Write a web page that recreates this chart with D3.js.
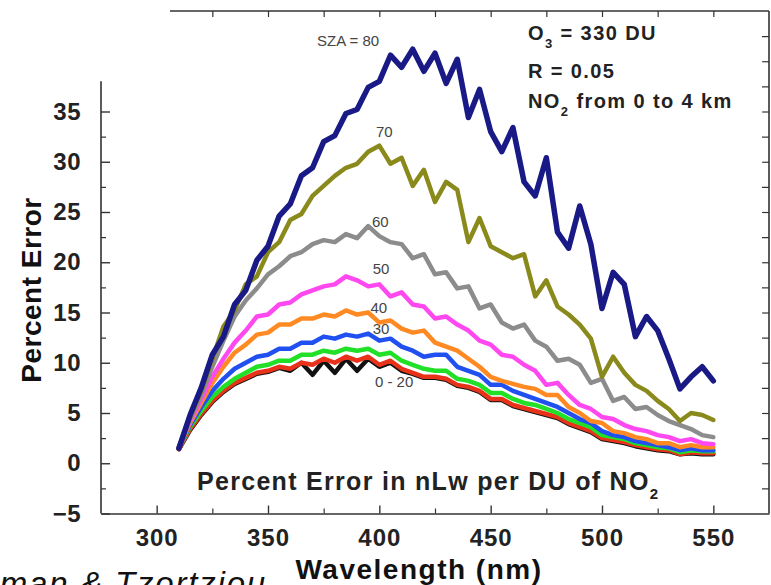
<!DOCTYPE html>
<html>
<head>
<meta charset="utf-8">
<script src="https://cdn.jsdelivr.net/npm/d3@7"></script>
<style>
  body { margin: 0; background: #fff; }
  svg { display: block; font-family: Arial, "Liberation Sans", sans-serif; }
  .tick text { font-weight: bold; fill: #222; }
</style>
</head>
<body>
<svg id="chart" width="771" height="585"></svg>
<script>
// DATA
const wavelengths = [310,315,320,325,330,335,340,345,350,355,360,365,370,375,380,385,390,395,400,
  405,410,415,420,425,430,435,440,445,450,455,460,465,470,475,480,485,490,495,500,
  505,510,515,520,525,530,535,540,545,550];

const sza0 = [1.4,3.3,4.8,6.1,7.1,7.9,8.4,8.9,9.1,9.5,9.2,10.0,8.8,10.2,9.0,10.4,9.2,10.4,9.6,
  10.0,9.2,8.9,8.5,8.5,8.3,7.7,7.5,7.1,6.3,6.3,5.7,5.4,5.1,4.8,4.5,3.9,3.5,3.1,2.4,
  2.2,2.0,1.7,1.5,1.3,1.2,0.9,1.0,0.9,0.9];
const sza10 = [1.4,3.4,4.9,6.2,7.2,8.0,8.5,9.0,9.2,9.6,9.4,10.0,9.8,10.4,10.0,10.6,10.2,10.6,9.8,
  10.2,9.4,9.0,8.6,8.6,8.4,7.8,7.6,7.2,6.4,6.4,5.8,5.5,5.2,4.9,4.6,4.0,3.6,3.2,2.5,
  2.3,2.1,1.8,1.6,1.4,1.3,0.9,1.1,1.0,1.0];
const sza20 = [1.5,3.6,5.2,6.6,7.6,8.4,9.0,9.6,9.8,10.2,10.2,10.8,10.8,11.2,11.0,11.4,11.2,11.4,10.8,
  11.0,10.2,9.8,9.4,9.2,9.2,8.4,8.2,7.8,7.0,7.0,6.4,6.0,5.8,5.4,5.0,4.4,4.0,3.6,2.8,
  2.6,2.4,2.0,1.8,1.6,1.5,1.1,1.3,1.2,1.2];
const sza30 = [1.5,3.8,5.6,7.2,8.4,9.4,10.0,10.6,10.8,11.4,11.4,12.0,12.0,12.6,12.4,12.8,12.6,12.9,12.2,
  12.4,11.6,11.2,10.6,10.8,10.8,9.6,9.2,8.8,7.8,7.8,7.2,6.8,6.4,6.0,5.6,5.0,4.4,4.0,3.2,
  2.8,2.6,2.2,2.0,1.8,1.6,1.3,1.5,1.3,1.3];
const sza40 = [1.5,4.0,6.0,8.0,9.6,11.0,11.8,12.8,13.0,13.8,13.8,14.4,14.4,14.8,14.6,15.2,14.8,15.0,14.0,
  14.2,13.4,13.0,13.2,12.0,11.6,11.2,10.4,9.6,8.6,8.2,7.9,7.6,7.4,6.8,6.8,5.6,5.0,4.2,4.0,
  3.2,3.0,2.6,2.4,2.0,2.0,1.6,1.8,1.6,1.6];
const sza50 = [1.6,4.2,6.4,8.6,10.4,12.0,13.2,14.6,14.8,15.8,16.0,16.8,17.2,17.6,17.8,18.6,18.2,17.6,17.8,
  16.6,17.0,15.8,15.6,14.4,14.6,13.8,13.2,12.2,11.8,10.8,10.6,9.8,9.2,7.8,8.0,6.8,5.8,5.4,4.6,
  4.4,3.8,3.4,3.2,2.8,2.6,2.2,2.4,2.0,1.9];
const sza60 = [1.6,4.4,6.8,9.6,12.2,14.6,16.2,17.4,18.8,19.6,20.6,21.0,21.8,22.2,22.0,22.8,22.4,23.6,22.6,
  22.0,21.8,20.4,20.8,18.8,19.0,17.4,17.6,15.4,15.8,14.0,13.4,13.8,12.2,11.6,10.2,10.4,9.8,8.0,8.4,
  6.2,6.6,5.4,5.6,4.8,4.2,3.8,3.4,2.8,2.6];
const sza70 = [1.6,4.6,7.2,10.4,13.6,15.2,17.8,18.6,21.0,22.0,24.2,24.8,26.6,27.6,28.6,29.4,29.8,31.0,31.6,
  29.8,30.4,27.6,29.2,26.0,28.0,27.2,22.0,24.4,21.6,21.0,20.4,20.8,16.6,18.2,15.6,14.8,13.8,12.4,8.6,
  10.6,9.0,7.8,7.2,6.2,5.4,4.2,5.0,4.8,4.3];
const sza80 = [1.5,4.8,7.5,10.8,12.6,15.8,17.2,20.2,21.6,24.6,25.8,28.6,29.4,32.0,32.6,34.8,35.2,37.4,38.0,
  40.6,39.4,41.2,39.0,40.8,37.8,40.2,34.4,37.2,33.0,31.0,33.4,28.0,26.6,30.4,23.0,21.4,25.6,21.8,15.4,
  19.0,17.8,12.6,14.6,13.2,10.4,7.4,8.6,9.6,8.2];

const seriesNames = ["0", "10", "20", "30", "40", "50", "60", "70", "80"];
const seriesValues = [sza0, sza10, sza20, sza30, sza40, sza50, sza60, sza70, sza80];
const seriesColors = ["#111111", "#e8321a", "#22e028", "#2050f0", "#ff8a24", "#ff48f0", "#8c8c8c", "#8a8a1c", "#1a1a86"];

const xTicks = [300, 350, 400, 450, 500, 550];
const yTicks = [-5, 0, 5, 10, 15, 20, 25, 30, 35];

// curve labels: text, wavelength, percent
const curveLabels = [
  ["SZA = 80", 372, 41.5],
  ["70", 398.5, 32.5],
  ["60", 396.7, 23.5],
  ["50", 397, 18.8],
  ["40", 396, 15],
  ["30", 397, 12.9],
  ["0 - 20", 398, 7.6]
];

// SETUP
const svg = d3.select("#chart");
const plotLeft = 101, plotRight = 769, plotTop = 11, plotBottom = 513.5;

const x = d3.scaleLinear().domain([275, 575]).range([plotLeft, plotRight]);
const y = d3.scaleLinear().domain([-5, 45]).range([plotBottom, plotTop]);

const frameColor = "#333";

// bottom axis
const gx = svg.append("g")
  .attr("transform", `translate(0,${plotBottom})`)
  .call(d3.axisBottom(x).tickValues(xTicks).tickSizeInner(-8).tickSizeOuter(0).tickPadding(15));
gx.select(".domain").attr("stroke", frameColor).attr("stroke-width", 1.6);
gx.selectAll(".tick line").attr("stroke", frameColor).attr("stroke-width", 1.4);
gx.selectAll(".tick text").attr("font-size", 24).attr("letter-spacing", 1);

svg.append("g")
  .attr("transform", `translate(0,${plotBottom})`)
  .call(d3.axisBottom(x).tickValues([325, 375, 425, 475, 525]).tickSize(-5).tickFormat(""))
  .call(g => g.select(".domain").remove())
  .selectAll(".tick line").attr("stroke", frameColor).attr("stroke-width", 1.2);

// top axis (starts partway across)
svg.append("line")
  .attr("x1", 170).attr("x2", plotRight).attr("y1", plotTop).attr("y2", plotTop)
  .attr("stroke", frameColor).attr("stroke-width", 1.6);
svg.append("g")
  .attr("transform", `translate(0,${plotTop})`)
  .call(d3.axisTop(x).tickValues([325, 350, 375, 400, 425, 450, 475, 500, 525, 550]).tickSize(-6).tickFormat(""))
  .call(g => g.select(".domain").remove())
  .selectAll(".tick line").attr("stroke", frameColor).attr("stroke-width", 1.2);

// left axis
svg.append("line")
  .attr("x1", plotLeft).attr("x2", plotLeft).attr("y1", y(38)).attr("y2", plotBottom)
  .attr("stroke", frameColor).attr("stroke-width", 1.6);
const gy = svg.append("g")
  .attr("transform", `translate(${plotLeft},0)`)
  .call(d3.axisLeft(y).tickValues(yTicks).tickSizeInner(-9).tickSizeOuter(0).tickPadding(20));
gy.select(".domain").remove();
gy.selectAll(".tick line").attr("stroke", frameColor).attr("stroke-width", 1.4);
gy.selectAll(".tick text").attr("font-size", 24).attr("letter-spacing", 0.5);

svg.append("g")
  .attr("transform", `translate(${plotLeft},0)`)
  .call(d3.axisLeft(y).tickValues([-2.5, 2.5, 7.5, 12.5, 17.5, 22.5, 27.5, 32.5]).tickSize(-5).tickFormat(""))
  .call(g => g.select(".domain").remove())
  .selectAll(".tick line").attr("stroke", frameColor).attr("stroke-width", 1.2);

// right axis
svg.append("line")
  .attr("x1", plotRight).attr("x2", plotRight).attr("y1", plotTop).attr("y2", plotBottom)
  .attr("stroke", frameColor).attr("stroke-width", 1.6);
svg.append("g")
  .attr("transform", `translate(${plotRight},0)`)
  .call(d3.axisRight(y).tickValues(d3.range(-2.5, 45, 2.5)).tickSize(-7).tickFormat(""))
  .call(g => g.select(".domain").remove())
  .selectAll(".tick line").attr("stroke", frameColor).attr("stroke-width", 1.2);

// curve labels (under the lines)
svg.append("g").selectAll("text")
  .data(curveLabels)
  .join("text")
  .attr("x", d => x(d[1]))
  .attr("y", d => y(d[2]))
  .attr("font-size", 15)
  .attr("fill", "#444")
  .text(d => d[0]);

// CURVES
const line = d3.line()
  .x((d, i) => x(wavelengths[i]))
  .y(d => y(d));

svg.append("g").selectAll("path")
  .data(seriesValues)
  .join("path")
  .attr("d", d => line(d))
  .attr("fill", "none")
  .attr("stroke", (d, i) => seriesColors[i])
  .attr("stroke-width", (d, i) => i === 8 ? 5.5 : 4.5)
  .attr("stroke-linejoin", "round")
  .attr("stroke-linecap", "round");

// TEXT
const info = svg.append("g")
  .attr("font-weight", "bold")
  .attr("font-size", 20)
  .attr("letter-spacing", 1.4)
  .attr("fill", "#222");
let t = info.append("text").attr("x", 528).attr("y", 40);
t.append("tspan").text("O");
t.append("tspan").attr("font-size", 13).attr("dy", 8).text("3");
t.append("tspan").attr("dy", -8).text(" = 330 DU");
info.append("text").attr("x", 528).attr("y", 78).text("R = 0.05");
t = info.append("text").attr("x", 528).attr("y", 108);
t.append("tspan").text("NO");
t.append("tspan").attr("font-size", 13).attr("dy", 8).text("2");
t.append("tspan").attr("dy", -8).text(" from 0 to 4 km");

t = svg.append("text")
  .attr("x", 197).attr("y", 490)
  .attr("font-weight", "bold").attr("font-size", 25).attr("letter-spacing", 1.3)
  .attr("fill", "#222");
t.append("tspan").text("Percent Error in nLw per DU of NO");
t.append("tspan").attr("font-size", 15).attr("dy", 9).text("2");

svg.append("text")
  .attr("transform", "translate(41,290) rotate(-90)")
  .attr("text-anchor", "middle")
  .attr("font-weight", "bold").attr("font-size", 28).attr("letter-spacing", 0.5)
  .attr("fill", "#111")
  .text("Percent Error");

svg.append("text")
  .attr("x", 419).attr("y", 579)
  .attr("text-anchor", "middle")
  .attr("font-weight", "bold").attr("font-size", 28).attr("letter-spacing", 1.5)
  .attr("fill", "#111")
  .text("Wavelength (nm)");

// credit line, partly cut off at the left edge as in the source
svg.append("text")
  .attr("x", 267).attr("y", 595)
  .attr("text-anchor", "end")
  .attr("font-style", "italic").attr("font-size", 33).attr("letter-spacing", 1.8)
  .attr("fill", "#111")
  .text("Herman & Tzortziou");
</script>
</body>
</html>
